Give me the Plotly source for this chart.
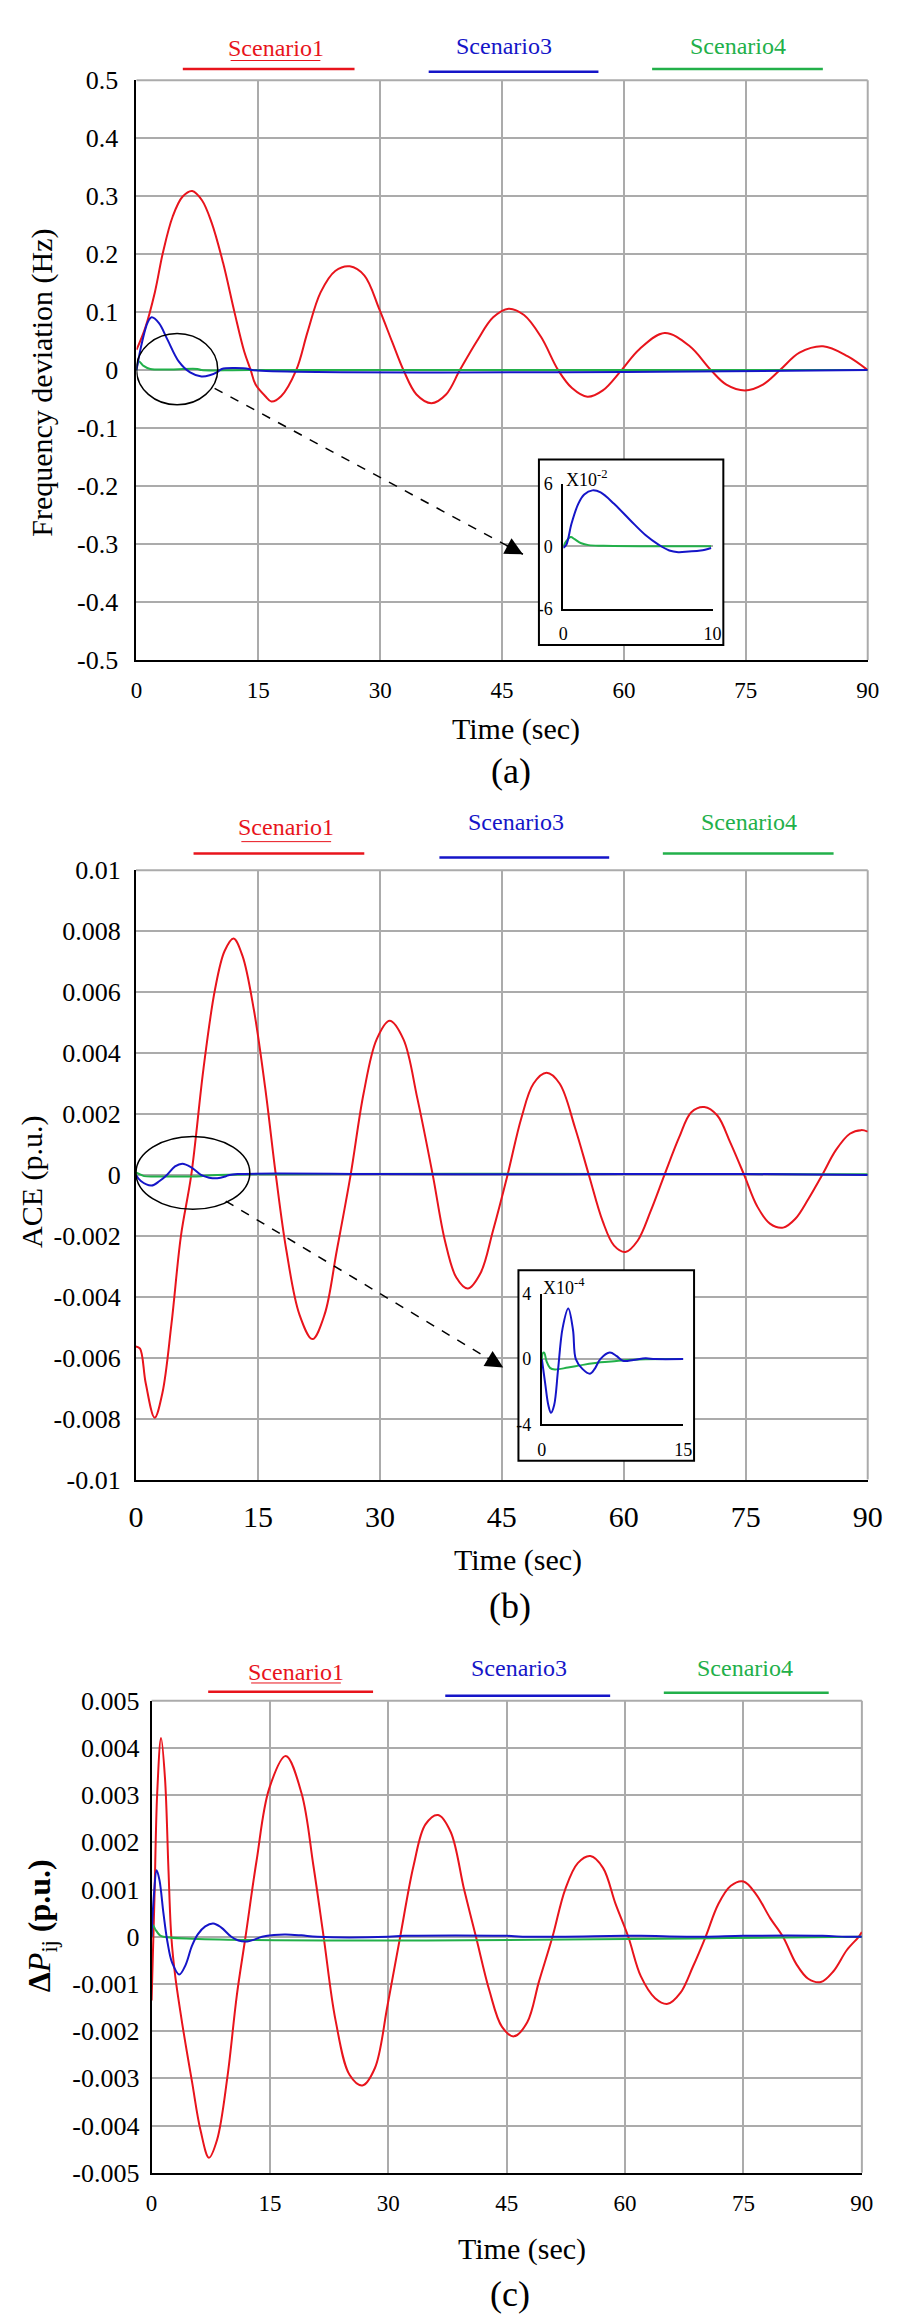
import plotly.graph_objects as go

W, H = 904, 2321
SERIF = "Liberation Serif, Times New Roman, serif"
RED = "#E8141C"
BLUE = "#1515C8"
GREEN = "#22B04A"
GRID = "#ABABAB"

# ---------------- data ----------------
xticks = [0, 15, 30, 45, 60, 75, 90]
scen_names = ["Scenario1", "Scenario3", "Scenario4"]

# (a) frequency deviation (Hz)
fa_s1_t = [0, 1.06, 2.26, 3.26, 4.46, 5.66, 6.86, 8.06, 9.26, 10.66, 12.06, 13.26, 14.06, 14.66, 15.86,
           16.6, 17.8, 19.66, 21.06, 22.66, 24.46, 26.26, 28.06, 29.86, 31.46, 32.86, 34.46, 36.3, 38.1,
           39.8, 41.85, 43.9, 45.8, 47.7, 49.8, 51.9, 53.6, 55.5, 57.4, 59.7, 61.9, 65.0, 68.1, 70.7,
           72.6, 74.9, 77.1, 79.2, 81.6, 84.5, 87.5, 90]
fa_s1_v = [0.035, 0.072, 0.134, 0.203, 0.265, 0.299, 0.309, 0.293, 0.254, 0.185, 0.100, 0.032, 0.0, -0.025, -0.045,
           -0.054, -0.045, 0.0, 0.066, 0.134, 0.171, 0.179, 0.163, 0.106, 0.049, 0.0, -0.042, -0.057, -0.042,
           0.0, 0.049, 0.091, 0.106, 0.095, 0.057, 0.0, -0.031, -0.046, -0.035, 0.0, 0.036, 0.064, 0.041, 0.0,
           -0.025, -0.035, -0.025, 0.0, 0.030, 0.041, 0.024, 0.0]
fa_s3_t = [0, 0.7, 1.4, 1.87, 2.77, 3.8, 5.2, 6.6, 8.0, 9.0, 10.0, 10.5, 13.8, 14.2, 90]
fa_s3_v = [0, 0.049, 0.083, 0.091, 0.081, 0.053, 0.015, -0.004, -0.011, -0.009, -0.003, 0.002, 0.002, 0.0, 0.0]
fa_s4_t = [0, 0.3, 0.8, 1.7, 7.5, 8.0, 14, 90]
fa_s4_v = [0, 0.015, 0.008, 0.002, 0.002, 0.0, 0.0, 0.0]

# (a) inset, values in units of 1e-2
ia_s3_t = [0, 0.2, 0.55, 1.0, 1.4, 1.95, 2.5, 3.4, 4.5, 5.5, 6.4, 7.1, 7.7, 8.4, 9.2, 9.9]
ia_s3_v = [-0.15, 0.15, 2.2, 4.1, 5.0, 5.4, 5.2, 4.1, 2.5, 1.1, 0.15, -0.4, -0.56, -0.5, -0.4, -0.15]
ia_s4_t = [0, 0.2, 0.5, 0.75, 1.2, 1.7, 2.7, 9.9]
ia_s4_v = [0, 0.5, 0.9, 0.7, 0.3, 0.12, 0.06, 0.0]

# (b) ACE (p.u.), values in units of 1e-3
ace_s1_t = [0, 0.5, 1.2, 2.3, 3.25, 4.36, 5.53, 6.8, 8.3, 9.7, 10.9, 12.0, 13.1, 14.5, 15.9, 17.2, 18.5,
            20.1, 21.7, 23.2, 24.7, 26.4, 28.0, 29.6, 31.2, 32.9, 34.6, 36.5, 38.0, 39.4, 40.8, 42.4,
            43.9, 45.7, 47.4, 48.9, 50.5, 52.1, 54.0, 55.7, 57.4, 58.8, 60.2, 61.7, 63.3, 65.0, 66.8,
            68.3, 69.9, 71.5, 73.1, 74.8, 76.4, 77.97, 79.6, 81.1, 82.7, 84.4, 86.1, 87.8, 89.2, 90]
ace_s1_v = [-5.63, -5.7, -6.84, -7.97, -7.16, -4.9, -2.0, 0, 3.48, 6.06, 7.35, 7.76, 7.19, 5.42, 2.84, 0, -2.48,
            -4.58, -5.39, -4.58, -2.48, 0, 2.68, 4.45, 5.06, 4.45, 2.52, 0, -2.16, -3.37, -3.73, -3.21,
            -1.84, 0, 1.87, 3.0, 3.35, 3.0, 1.55, 0, -1.52, -2.32, -2.53, -2.16, -1.19, 0, 1.23,
            2.06, 2.23, 1.95, 1.06, 0, -1.03, -1.6, -1.73, -1.44, -0.79, 0, 0.82, 1.35, 1.47, 1.42]
ace_s3_t = [0, 0.6, 1.9, 2.9, 3.8, 4.8, 5.7, 6.8, 8.0, 9.0, 10.0, 11.0, 11.5, 12.5, 30, 45, 60, 75, 90]
ace_s3_v = [0, -0.2, -0.35, -0.2, 0, 0.28, 0.37, 0.25, 0.0, -0.09, -0.11, -0.05, 0.0, 0.03, 0.03, 0.02, 0.03, 0.03, 0.0]
ace_s4_t = [0, 0.5, 1.0, 3.0, 8.0, 10.0, 90]
ace_s4_v = [0.08, 0.02, -0.04, -0.05, -0.04, 0.0, 0.02]

# (b) inset, values in units of 1e-4
ib_s3_t = [0, 0.34, 0.69, 0.97, 1.3, 1.72, 2.2, 2.8, 3.3, 3.6, 4.3, 5.1, 5.6, 6.2, 7.2, 7.9, 8.6, 9.7, 11, 12, 15]
ib_s3_v = [0, -1.44, -2.84, -3.3, -2.84, -0.64, 1.9, 3.1, 1.8, 0, -0.6, -0.9, -0.6, 0, 0.4, 0.2, -0.1, -0.05, 0.05, 0.0, 0.0]
ib_s4_t = [0, 0.1, 0.24, 0.5, 0.86, 1.38, 2.76, 4.5, 6.2, 7.9, 9.7, 13.1, 15]
ib_s4_v = [0, 0.36, 0.4, -0.14, -0.54, -0.64, -0.52, -0.34, -0.2, -0.12, -0.04, 0, 0]

# (c) tie-line power deviation (p.u.), values in units of 1e-3
dp_s1_t = [0, 0.36, 0.71, 1.2, 1.7, 2.14, 2.5, 3.0, 3.9, 5.13, 6.2, 7.27, 8.3, 9.6, 10.8, 11.9, 13.3, 14.9,
           17.0, 19.0, 20.5, 21.8, 23.3, 25.1, 26.7, 28.3, 29.9, 31.5, 33.2, 34.7, 36.3, 37.9, 39.6, 41.1,
           42.8, 44.4, 45.9, 47.6, 49.1, 50.8, 52.4, 54.0, 55.6, 57.2, 58.8, 60.4, 62.0, 63.8, 65.4, 67.0,
           68.6, 70.2, 71.8, 73.4, 75.0, 76.6, 78.4, 80.0, 81.7, 83.2, 84.8, 86.4, 88.1, 89.6, 90]
dp_s1_v = [-1.35, 0.8, 3.04, 4.21, 3.35, 1.41, 0, -0.84, -1.86, -3.08, -4.1, -4.68, -4.3, -2.98, -1.24, 0, 1.61, 3.14,
           3.83, 3.04, 1.51, 0, -1.76, -2.93, -3.15, -2.78, -1.45, 0, 1.51, 2.38, 2.58, 2.22, 1.0, 0,
           -1.14, -1.91, -2.11, -1.81, -0.94, 0, 1.0, 1.56, 1.71, 1.46, 0.69, 0, -0.84, -1.3, -1.42, -1.19,
           -0.63, 0, 0.69, 1.08, 1.17, 0.9, 0.39, 0, -0.58, -0.89, -0.96, -0.73, -0.28, 0, 0.1]
dp_s3_t = [0, 0.3, 0.64, 1.0, 1.5, 2.0, 2.6, 3.5, 4.3, 5.1, 5.85, 6.8, 7.8, 8.8, 10.1, 11.0, 12.1, 13.0, 14.0,
           15.5, 17.0, 19.0, 21.0, 30, 32, 45, 47, 60, 62, 70, 75, 85, 88, 90]
dp_s3_v = [0, 0.9, 1.41, 1.2, 0.5, -0.1, -0.55, -0.8, -0.6, -0.2, 0.05, 0.22, 0.28, 0.2, 0, -0.08, -0.1, -0.06, 0,
           0.04, 0.05, 0.03, 0.0, 0.0, 0.02, 0.02, 0.0, 0.02, 0.02, 0.0, 0.02, 0.02, 0.0, 0.0]
dp_s4_t = [0, 0.15, 0.5, 1.0, 1.5, 90]
dp_s4_v = [0, 0.25, 0.15, 0.04, 0.0, 0.0]

# ---------------- layout geometry (pixels) ----------------
A = dict(l=124.5, r=874, t=59, b=646, y0=-0.5, y1=0.5)
B = dict(l=124, r=874, t=859, b=1476, y0=-0.01, y1=0.01)
C = dict(l=140, r=868, t=1700, b=2178, y0=-0.005, y1=0.005)


def dom_x(l, r):
    return [l / W, r / W]


def dom_y(t, b):
    return [1 - b / H, 1 - t / H]


def to_data(P, x, y):
    tx = (x - P["l"]) / (P["r"] - P["l"]) * 90
    vy = P["y0"] + (P["b"] - y) / (P["b"] - P["t"]) * (P["y1"] - P["y0"])
    return tx, vy


fig = go.Figure()


def add_line(t, v, color, xa, ya, scale=1.0, width=2.0):
    fig.add_trace(go.Scatter(x=t, y=[val * scale for val in v], mode="lines",
                             line=dict(color=color, width=width, shape="spline", smoothing=1.0),
                             xaxis=xa, yaxis=ya, showlegend=False, hoverinfo="skip"))


add_line(fa_s1_t, fa_s1_v, RED, "x", "y")
add_line(fa_s4_t, fa_s4_v, GREEN, "x", "y")
add_line(fa_s3_t, fa_s3_v, BLUE, "x", "y")

add_line(ace_s1_t, ace_s1_v, RED, "x2", "y2", 1e-3)
add_line(ace_s4_t, ace_s4_v, GREEN, "x2", "y2", 1e-3)
add_line(ace_s3_t, ace_s3_v, BLUE, "x2", "y2", 1e-3)

add_line(dp_s1_t, dp_s1_v, RED, "x3", "y3", 1e-3)
add_line(dp_s4_t, dp_s4_v, GREEN, "x3", "y3", 1e-3)
add_line(dp_s3_t, dp_s3_v, BLUE, "x3", "y3", 1e-3)

add_line(ia_s4_t, ia_s4_v, GREEN, "x4", "y4")
add_line(ia_s3_t, ia_s3_v, BLUE, "x4", "y4")

add_line(ib_s4_t, ib_s4_v, GREEN, "x5", "y5")
add_line(ib_s3_t, ib_s3_v, BLUE, "x5", "y5")


def fnt(size, color="black"):
    return dict(family=SERIF, size=size, color=color)


def main_x(P, size, stand, anchor):
    return dict(domain=dom_x(P["l"], P["r"]), range=[0, 90], tickvals=xticks,
                ticktext=[str(v) for v in xticks], showgrid=True, gridcolor=GRID, gridwidth=2,
                showline=True, linecolor="black", linewidth=2, zeroline=False, ticks="",
                tickfont=fnt(size), ticklabelstandoff=stand, anchor=anchor)


def main_y(P, vals, texts, size, stand, anchor):
    return dict(domain=dom_y(P["t"], P["b"]), range=[P["y0"], P["y1"]], tickvals=vals, ticktext=texts,
                showgrid=True, gridcolor=GRID, gridwidth=2, showline=True, linecolor="black",
                linewidth=2, zeroline=False, ticks="", tickfont=fnt(size), ticklabelstandoff=stand,
                anchor=anchor)


ya_vals = [0.5, 0.4, 0.3, 0.2, 0.1, 0, -0.1, -0.2, -0.3, -0.4, -0.5]
ya_text = ["0.5", "0.4", "0.3", "0.2", "0.1", "0", "-0.1", "-0.2", "-0.3", "-0.4", "-0.5"]
yb_vals = [0.01, 0.008, 0.006, 0.004, 0.002, 0, -0.002, -0.004, -0.006, -0.008, -0.01]
yb_text = ["0.01", "0.008", "0.006", "0.004", "0.002", "0", "-0.002", "-0.004", "-0.006", "-0.008", "-0.01"]
yc_vals = [0.005, 0.004, 0.003, 0.002, 0.001, 0, -0.001, -0.002, -0.003, -0.004, -0.005]
yc_text = ["0.005", "0.004", "0.003", "0.002", "0.001", "0", "-0.001", "-0.002", "-0.003", "-0.004", "-0.005"]


def inset_x(l, r, rng, vals, anchor):
    return dict(domain=dom_x(l, r), range=rng, tickvals=vals, ticktext=[str(v) for v in vals],
                showgrid=False, showline=True, linecolor="black", linewidth=2, zeroline=False,
                ticks="", tickfont=fnt(18), ticklabelstandoff=8, anchor=anchor)


def inset_y(t, b, rng, vals, anchor):
    return dict(domain=dom_y(t, b), range=rng, tickvals=vals,
                ticktext=[str(v) if v >= 0 else "-" + str(-v) for v in vals],
                showgrid=False, showline=True, linecolor="black", linewidth=2, zeroline=True,
                zerolinecolor=GRID, zerolinewidth=2, ticks="", tickfont=fnt(18),
                ticklabelstandoff=5, anchor=anchor)


fig.update_layout(
    width=W, height=H, margin=dict(l=0, r=0, t=0, b=0),
    paper_bgcolor="white", plot_bgcolor="white", showlegend=False, hovermode=False,
    xaxis=main_x(A, 23, 8, "y"),
    yaxis=main_y(A, ya_vals, ya_text, 26, 11, "x"),
    xaxis2=main_x(B, 30, 9, "y2"),
    yaxis2=main_y(B, yb_vals, yb_text, 26, 8, "x2"),
    xaxis3=main_x(C, 23, 9, "y3"),
    yaxis3=main_y(C, yc_vals, yc_text, 26, 5, "x3"),
    xaxis4=inset_x(562, 715, [0, 10], [0, 10], "y4"),
    yaxis4=inset_y(468, 594, [-6, 6], [6, 0, -6], "x4"),
    xaxis5=inset_x(540, 685, [0, 15], [0, 15], "y5"),
    yaxis5=inset_y(1288, 1420, [-4, 4], [4, 0, -4], "x5"),
)

shapes = []
annotations = []


def pline(x0, y0, x1, y1, color, width, layer="above"):
    shapes.append(dict(type="line", xref="paper", yref="paper", x0=x0 / W, x1=x1 / W,
                       y0=1 - y0 / H, y1=1 - y1 / H, line=dict(color=color, width=width), layer=layer))


def label(x, y, text, size, color="black", angle=0, xanchor="center"):
    annotations.append(dict(x=x / W, y=1 - y / H, xref="paper", yref="paper", text=text,
                            showarrow=False, font=fnt(size, color), textangle=angle,
                            xanchor=xanchor, yanchor="middle"))


# grey frame on the top and right edge of each main panel
for P in (A, B, C):
    pline(P["l"], P["t"], P["r"], P["t"], GRID, 2, "below")
    pline(P["r"], P["t"], P["r"], P["b"], GRID, 2, "below")

# legends (one per panel)
legend_rows = [
    [(267, 26, 221, 313, 39, 172, 348, 47.5), (501.5, 24, None, None, None, 424, 598, 50.5),
     (741, 24, None, None, None, 653, 828, 47.5)],
    [(278, 815, 232, 324, 830, 183, 358, 842), (513, 810, None, None, None, 435, 609, 846),
     (752, 810, None, None, None, 664, 839, 842)],
    [(288, 1671, 242, 334, 1682, 198, 367, 1691), (517, 1667, None, None, None, 441, 610, 1695),
     (748, 1667, None, None, None, 665, 834, 1692)],
]
colors = [RED, BLUE, GREEN]
for row in legend_rows:
    for (cx, cy, ux0, ux1, uy, lx0, lx1, ly), name, col in zip(row, scen_names, colors):
        label(cx, cy, name, 24, col)
        if ux0 is not None:
            pline(ux0, uy, ux1, uy, col, 1)
        pline(lx0, ly, lx1, ly, col, 2.5)

# axis titles and panel captions
label(28, 365, "Frequency deviation (Hz)", 30, angle=-90)
label(18, 1175, "ACE (p.u.)", 30, angle=-90)
label(28, 1928, "<b>Δ</b><i>P</i><sub>ij</sub><b> (p.u.)</b>", 32, angle=-90)
label(514, 716, "Time (sec)", 30)
label(508, 758, "(a)", 36)
label(516, 1557, "Time (sec)", 30)
label(507, 1604, "(b)", 36)
label(520, 2255, "Time (sec)", 30)
label(507, 2301, "(c)", 36)
label(563, 462, "X10<sup>-2</sup>", 18, xanchor="left")
label(539, 1280, "X10<sup>-4</sup>", 18, xanchor="left")


def data_rect(P, xr, yr, x0, y0, x1, y1):
    tx0, vy0 = to_data(P, x0, y0)
    tx1, vy1 = to_data(P, x1, y1)
    return dict(type="rect", xref=xr, yref=yr, x0=tx0, x1=tx1, y0=vy0, y1=vy1,
                fillcolor="white", line=dict(color="black", width=2), layer="between")


shapes.append(data_rect(A, "x", "y", 537, 443, 726, 631))
shapes.append(data_rect(B, "x2", "y2", 516, 1264, 696, 1457))

# zoom ellipses (around the region shown in the inset)
shapes.append(dict(type="circle", xref="x", yref="y", x0=0, x1=10, y0=-0.06, y1=0.063,
                   line=dict(color="black", width=1.5), layer="above"))
shapes.append(dict(type="circle", xref="x2", yref="y2", x0=0, x1=14, y0=-0.00113, y1=0.00126,
                   line=dict(color="black", width=1.5), layer="above"))


def dashed_arrow(P, xr, yr, tail, tip):
    t0, v0 = to_data(P, *tail)
    t1, v1 = to_data(P, *tip)
    shapes.append(dict(type="line", xref=xr, yref=yr, x0=t0, y0=v0, x1=t1, y1=v1,
                       line=dict(color="black", width=1.5, dash="dash"), layer="above"))
    dx, dy = tip[0] - tail[0], tip[1] - tail[1]
    n = (dx * dx + dy * dy) ** 0.5
    annotations.append(dict(x=t1, y=v1, xref=xr, yref=yr, text="", showarrow=True,
                            ax=-dx / n * 20, ay=-dy / n * 20, arrowhead=2, arrowsize=2.2,
                            arrowwidth=1.6, arrowcolor="black", standoff=0))


dashed_arrow(A, "x", "y", (204.6, 371), (520.6, 539))
dashed_arrow(B, "x2", "y2", (216, 1194), (500.4, 1362.5))

fig.update_layout(shapes=shapes, annotations=annotations)
fig.write_html("out.html")
